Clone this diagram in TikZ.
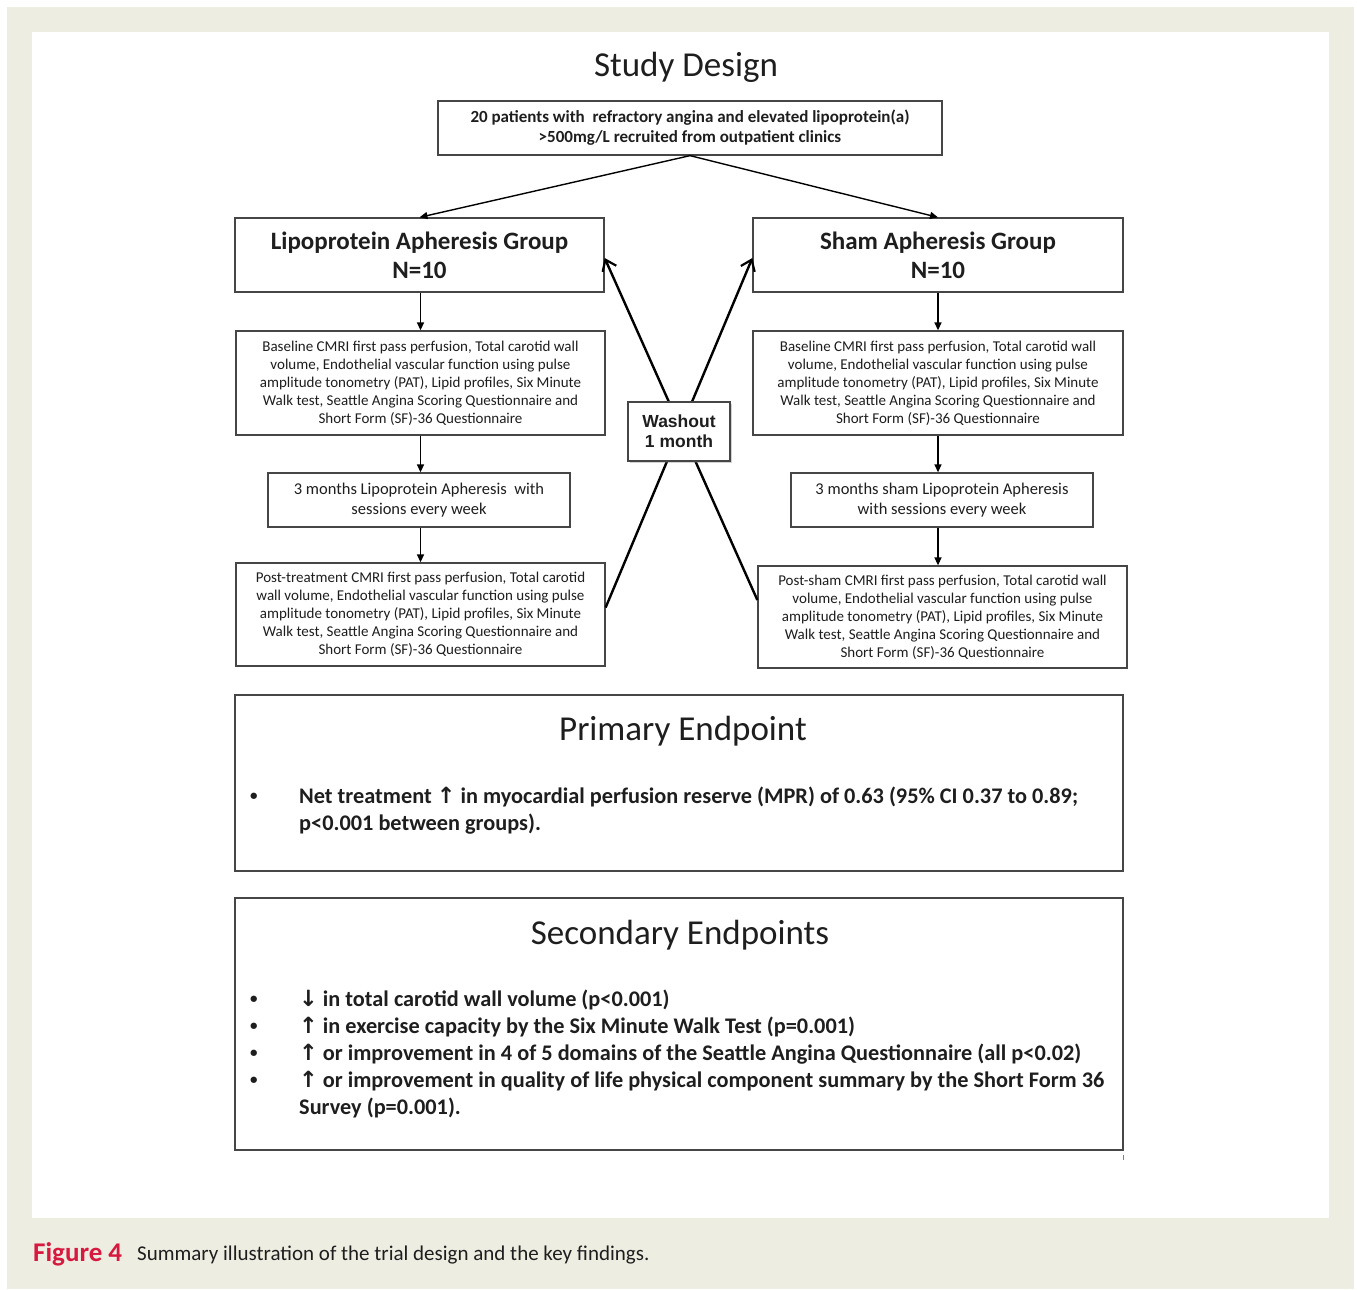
\documentclass[tikz,border=0pt]{standalone}
\usepackage{fontspec}
\setmainfont{Carlito}
\newfontfamily\arrowfont{DejaVu Sans}
\newfontfamily\washfont{Liberation Sans}
\usetikzlibrary{arrows.meta,shadows,calc}
\definecolor{beige}{RGB}{238,237,226}
\definecolor{boxgray}{RGB}{70,70,70}
\definecolor{txt}{RGB}{30,30,30}
\definecolor{figred}{RGB}{215,25,63}
\newcommand{\up}{{\arrowfont\bfseries ↑}}
\newcommand{\dn}{{\arrowfont\bfseries ↓}}
\begin{document}
\begin{tikzpicture}[x=1pt,y=-1pt,
  box/.style={draw=boxgray, line width=1.3pt, fill=white, inner sep=0pt, align=center, text=txt},
  small/.style={font=\fontsize{15}{18}\selectfont},
  flow/.style={-{Triangle[length=8pt,width=7pt]}, line width=1.4pt, black},
  cross/.style={-{Straight Barb[length=10pt,width=15pt,line width=2.2pt]}, line width=2.4pt, black},
  bul/.style={anchor=west, inner sep=0pt, text=txt, font=\fontsize{22.3}{27}\bfseries\selectfont},
  dot/.style={anchor=west, inner sep=0pt, text=txt, font=\fontsize{15}{27}\bfseries\selectfont},
  ttl/.style={inner sep=0pt, text=txt, font=\fontsize{35}{40}\selectfont}
]
\useasboundingbox (0,0) rectangle (1357,1290);
\fill[white] (0,0) rectangle (1357,1290);
\fill[beige] (7,7) rectangle (1354,1289);
\fill[white] (32,32) rectangle (1329,1218);

% title
\node[ttl] (title) at (686,67) {Study Design};

% top box
\node[box, minimum width=504pt, minimum height=54pt, font=\fontsize{17}{20}\bfseries\selectfont] (tb) at (690,128)
  {20 patients with\ \ refractory angina and elevated lipoprotein(a)\\ {}>500mg/L recruited from outpatient clinics};

% group boxes
\node[box, minimum width=369pt, minimum height=74pt, font=\fontsize{25}{29}\bfseries\selectfont] (lg) at (419.5,255)
  {Lipoprotein Apheresis Group\\N=10};
\node[box, minimum width=370pt, minimum height=74pt, font=\fontsize{25}{29}\bfseries\selectfont] (rg) at (938,255)
  {Sham Apheresis Group\\N=10};

% baseline boxes
\node[box, small, minimum width=369pt, minimum height=104pt] (lb) at (420.5,383)
  {Baseline CMRI first pass perfusion, Total carotid wall\\volume, Endothelial vascular function using pulse\\amplitude tonometry (PAT), Lipid profiles, Six Minute\\Walk test, Seattle Angina Scoring Questionnaire and\\Short Form (SF)-36 Questionnaire};
\node[box, small, minimum width=370pt, minimum height=104pt] (rb) at (938,383)
  {Baseline CMRI first pass perfusion, Total carotid wall\\volume, Endothelial vascular function using pulse\\amplitude tonometry (PAT), Lipid profiles, Six Minute\\Walk test, Seattle Angina Scoring Questionnaire and\\Short Form (SF)-36 Questionnaire};

% treatment boxes
\node[box, font=\fontsize{16.5}{20}\selectfont, minimum width=302pt, minimum height=54pt] (lt) at (419,500)
  {3 months Lipoprotein Apheresis\ \ with\\sessions every week};
\node[box, font=\fontsize{16.5}{20}\selectfont, minimum width=302pt, minimum height=54pt] (rt) at (942,500)
  {3 months sham Lipoprotein Apheresis\\with sessions every week};

% post boxes
\node[box, small, minimum width=369pt, minimum height=103pt] (lp) at (420.5,614.5)
  {Post-treatment CMRI first pass perfusion, Total carotid\\wall volume, Endothelial vascular function using pulse\\amplitude tonometry (PAT), Lipid profiles, Six Minute\\Walk test, Seattle Angina Scoring Questionnaire and\\Short Form (SF)-36 Questionnaire};
\node[box, small, minimum width=369pt, minimum height=102pt] (rp) at (942.5,617)
  {Post-sham CMRI first pass perfusion, Total carotid wall\\volume, Endothelial vascular function using pulse\\amplitude tonometry (PAT), Lipid profiles, Six Minute\\Walk test, Seattle Angina Scoring Questionnaire and\\Short Form (SF)-36 Questionnaire};

% arrows
\draw[flow] (tb.south) -- (lg.north);
\draw[flow] (tb.south) -- (rg.north);
\draw[flow] (lb.north |- lg.south) -- (lb.north);
\draw[flow] (rg.south) -- (rb.north);
\draw[flow] (lb.south) -- (lb.south |- lt.north);
\draw[flow] (rb.south) -- (rb.south |- rt.north);
\draw[flow] (lb.south |- lt.south) -- (lb.south |- lp.north);
\draw[flow] (rb.south |- rt.south) -- (rb.south |- rp.north);

\draw[cross] ([yshift=7pt]lp.east) -- ([yshift=-3pt]rg.west);
\draw[cross] ([yshift=17pt]rp.west) -- ([yshift=-3pt]lg.east);

% washout
\node[box, line width=1.2pt, minimum width=102pt, minimum height=59pt,
  drop shadow={opacity=0.35, shadow xshift=2pt, shadow yshift=-2pt},
  font=\washfont\fontsize{17.5}{20}\bfseries\selectfont] (wo) at (679,431.5) {Washout\\1 month};

% primary endpoint
\node[box, minimum width=888pt, minimum height=176pt] (pe) at (679,783) {};
\node[ttl] (pet) at (683,731) {Primary Endpoint};
\node[dot] (pb1) at (250,797) {•};
\node[bul] (pl1) at (299,797) {Net treatment \up\ in myocardial perfusion reserve (MPR) of 0.63 (95\% CI 0.37 to 0.89;};
\node[bul] (pl2) at (299,824) {p<0.001 between groups).};

% secondary endpoints
\node[box, minimum width=888pt, minimum height=252pt] (se) at (679,1024) {};
\node[ttl] (set) at (680,935) {Secondary Endpoints};
\node[dot] (sb1) at (250,1000) {•};
\node[dot] (sb2) at (250,1027) {•};
\node[dot] (sb3) at (250,1054) {•};
\node[dot] (sb4) at (250,1081) {•};
\node[bul] (sl1) at (299,1000) {\dn\ in total carotid wall volume (p<0.001)};
\node[bul] (sl2) at (299,1027) {\up\ in exercise capacity by the Six Minute Walk Test (p=0.001)};
\node[bul] (sl3) at (299,1054) {\up\ or improvement in 4 of 5 domains of the Seattle Angina Questionnaire (all p<0.02)};
\node[bul] (sl4) at (299,1081) {\up\ or improvement in quality of life physical component summary by the Short Form 36};
\node[bul] (sl5) at (299,1108) {Survey (p=0.001).};
\draw[gray, line width=1pt] ([yshift=-4pt]se.south east) -- ([yshift=-9pt]se.south east);

% caption
\node[anchor=west, inner sep=0pt, text=figred, font=\fontsize{27}{30}\bfseries\selectfont] (fig) at (33,1254) {Figure 4};
\node[anchor=west, inner sep=0pt, text=txt, font=\fontsize{21}{26}\selectfont] (cap) at (137,1255) {Summary illustration of the trial design and the key findings.};
\end{tikzpicture}
\end{document}
